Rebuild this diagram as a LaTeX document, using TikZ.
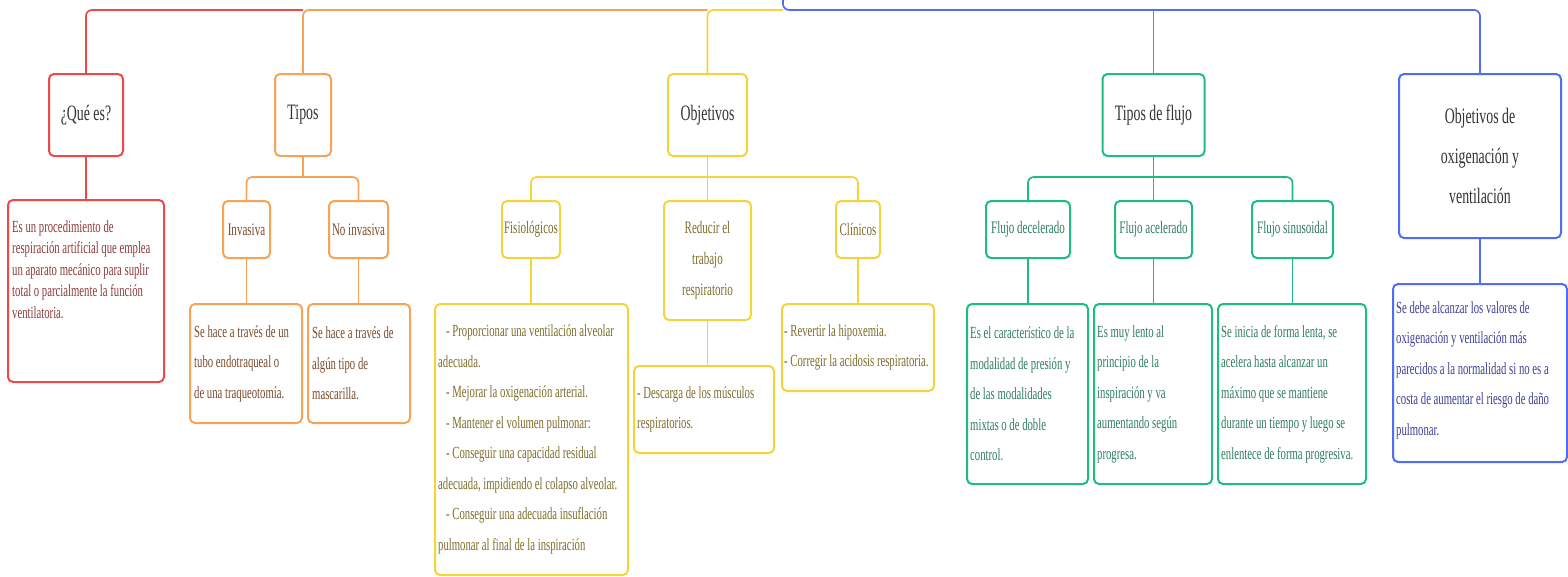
\documentclass[tikz,border=0pt]{standalone}
\usepackage{fontspec}
\newfontfamily\cf{Liberation Serif}[FakeStretch=0.63]
\definecolor{cR}{HTML}{F04848}
\definecolor{cRt}{HTML}{8B3A3A}
\definecolor{cO}{HTML}{F7A357}
\definecolor{cOt}{HTML}{7A4B2B}
\definecolor{cY}{HTML}{F5D43B}
\definecolor{cYt}{HTML}{7D6D2A}
\definecolor{cG}{HTML}{1DBE7D}
\definecolor{cGt}{HTML}{2E7D5E}
\definecolor{cB}{HTML}{4F6DF5}
\definecolor{cBt}{HTML}{3C3F94}
\definecolor{tc}{HTML}{333333}
\tikzset{
  box/.style={draw, rounded corners=5pt, line width=2pt, fill=white, inner sep=0pt},
  ttl/.style={box, text=tc, font=\cf\fontsize{22}{40}\selectfont, align=center},
  sub/.style={box, font=\cf\fontsize{17.5}{31}\selectfont, align=center},
  dtext/.style={inner sep=0pt, font=\cf\fontsize{17}{30.5}\selectfont, align=left, anchor=west},
  conn/.style={line width=1.7pt, rounded corners=6pt},
}
\begin{document}
\begin{tikzpicture}[x=1pt,y=-1pt]
\useasboundingbox (0,0) rectangle (1568,576);
% level 1
\node[ttl, draw=cR, minimum width=74pt, minimum height=82pt] (que) at (86,115) {¿Qué es?};
\node[ttl, draw=cO, minimum width=56pt, minimum height=82pt] (tipos) at (303,115) {Tipos};
\node[ttl, draw=cY, minimum width=79pt, minimum height=82pt] (obj) at (707.5,115) {Objetivos};
\node[ttl, draw=cG, minimum width=102pt, minimum height=82pt] (flujo) at (1153.5,115) {Tipos de flujo};
\node[ttl, draw=cB, minimum width=162pt, minimum height=164pt] (ox) at (1480,156) {Objetivos de\\oxigenación y\\ventilación};
% level 2
\node[sub, draw=cO, text=cOt, minimum width=47pt, minimum height=57pt] (inv) at (246.5,229.5) {Invasiva};
\node[sub, draw=cO, text=cOt, minimum width=59pt, minimum height=57pt] (noinv) at (358.5,229.5) {No invasiva};
\node[sub, draw=cY, text=cYt, minimum width=58pt, minimum height=57pt] (fis) at (531,229.5) {Fisiológicos};
\node[sub, draw=cY, text=cYt, minimum width=87pt, minimum height=119pt] (red) at (707.5,260.5) {Reducir el\\trabajo\\respiratorio};
\node[sub, draw=cY, text=cYt, minimum width=44pt, minimum height=57pt] (cli) at (858,229.5) {Clínicos};
\node[sub, draw=cG, text=cGt, minimum width=84pt, minimum height=57pt] (fdec) at (1028,229.5) {Flujo decelerado};
\node[sub, draw=cG, text=cGt, minimum width=77pt, minimum height=57pt] (facc) at (1153.5,229.5) {Flujo acelerado};
\node[sub, draw=cG, text=cGt, minimum width=81pt, minimum height=57pt] (fsin) at (1292.5,229.5) {Flujo sinusoidal};
% description boxes
\node[box, draw=cR, minimum width=156pt, minimum height=182pt] (qued) at (86,291) {};
\node[box, draw=cO, minimum width=112pt, minimum height=119pt] (invd) at (246,363.5) {};
\node[box, draw=cO, minimum width=102pt, minimum height=119pt] (noinvd) at (359,363.5) {};
\node[box, draw=cY, minimum width=193pt, minimum height=271pt] (fisd) at (531.5,439.5) {};
\node[box, draw=cY, minimum width=140pt, minimum height=87pt] (redd) at (704,409.5) {};
\node[box, draw=cY, minimum width=152pt, minimum height=87pt] (clid) at (858,347.5) {};
\node[box, draw=cG, minimum width=121pt, minimum height=180pt] (fdecd) at (1027.5,394) {};
\node[box, draw=cG, minimum width=118pt, minimum height=180pt] (faccd) at (1153,394) {};
\node[box, draw=cG, minimum width=148pt, minimum height=180pt] (fsind) at (1292,394) {};
\node[box, draw=cB, minimum width=174pt, minimum height=178pt] (oxd) at (1480,373) {};
% description texts
\node[dtext, anchor=north west, text=cRt, font=\cf\fontsize{17}{21.5}\selectfont] (quet) at (12,220) {Es un procedimiento de\\respiración artificial que emplea\\un aparato mecánico para suplir\\total o parcialmente la función\\ventilatoria.};
\node[dtext, text=cOt] (invt) at ([xshift=5pt]invd.west) {Se hace a través de un\\tubo endotraqueal o\\de una traqueotomía.};
\node[dtext, text=cOt] (noinvt) at ([xshift=5pt]noinvd.west) {Se hace a través de\\algún tipo de\\mascarilla.};
\node[dtext, text=cYt] (fist) at ([xshift=4pt]fisd.west) {\hspace*{8pt}- Proporcionar una ventilación alveolar\\adecuada.\\\hspace*{8pt}- Mejorar la oxigenación arterial.\\\hspace*{8pt}- Mantener el volumen pulmonar:\\\hspace*{8pt}- Conseguir una capacidad residual\\adecuada, impidiendo el colapso alveolar.\\\hspace*{8pt}- Conseguir una adecuada insuflación\\pulmonar al final de la inspiración};
\node[dtext, text=cYt] (redt) at ([xshift=4pt]redd.west) {- Descarga de los músculos\\respiratorios.};
\node[dtext, text=cYt] (clit) at ([xshift=3pt]clid.west) {- Revertir la hipoxemia.\\- Corregir la acidosis respiratoria.};
\node[dtext, text=cGt] (fdect) at ([xshift=4pt]fdecd.west) {Es el característico de la\\modalidad de presión y\\de las modalidades\\mixtas o de doble\\control.};
\node[dtext, text=cGt] (facct) at ([xshift=4pt]faccd.west) {Es muy lento al\\principio de la\\inspiración y va\\aumentando según\\progresa.};
\node[dtext, text=cGt] (fsint) at ([xshift=4pt]fsind.west) {Se inicia de forma lenta, se\\acelera hasta alcanzar un\\máximo que se mantiene\\durante un tiempo y luego se\\enlentece de forma progresiva.};
\node[dtext, text=cBt] (oxt) at ([xshift=4pt,yshift=3pt]oxd.west) {Se debe alcanzar los valores de\\oxigenación y ventilación más\\parecidos a la normalidad si no es a\\costa de aumentar el riesgo de daño\\pulmonar.};
% top connectors
\coordinate (root) at (783,0);
\coordinate (jR) at (303,10);
\coordinate (jY) at (707.5,10);
\coordinate (jB) at (783,10);
\coordinate (jG) at (1153.5,10);
\coordinate (jO) at (1480,10);
\draw[conn, cR] (que.north) |- (jR);
\draw[conn, cO] (tipos.north) -- (jR) -- (jY);
\draw[conn, cY] (obj.north) -- (jY) -- (jB);
\draw[conn, cB] (root) -- (jB) -- (jO) -- (ox.north);
\draw[conn, cG] (flujo.north) -- (jG);
% branch bars
\coordinate (tb) at (303,177);
\coordinate (ob) at (707.5,177);
\coordinate (gb) at (1153.5,177);
\draw[conn, cO] (tipos.south) -- (tb);
\draw[conn, cO] (inv.north) |- (tb) -| (noinv.north);
\draw[conn, cY] (obj.south) -- (red.north);
\draw[conn, cY] (fis.north) |- (ob) -| (cli.north);
\draw[conn, cG] (flujo.south) -- (facc.north);
\draw[conn, cG] (fdec.north) |- (gb) -| (fsin.north);
% to descriptions
\draw[conn, cR] (que.south) -- (qued.north);
\draw[conn, cO] (inv.south) -- (inv.south |- invd.north);
\draw[conn, cO] (noinv.south) -- (noinv.south |- noinvd.north);
\draw[conn, cY] (fis.south) -- (fis.south |- fisd.north);
\draw[conn, cY] (red.south) -- (red.south |- redd.north);
\draw[conn, cY] (cli.south) -- (cli.south |- clid.north);
\draw[conn, cG] (fdec.south) -- (fdec.south |- fdecd.north);
\draw[conn, cG] (facc.south) -- (facc.south |- faccd.north);
\draw[conn, cG] (fsin.south) -- (fsin.south |- fsind.north);
\draw[conn, cB] (ox.south) -- (oxd.north);
\end{tikzpicture}
\end{document}
